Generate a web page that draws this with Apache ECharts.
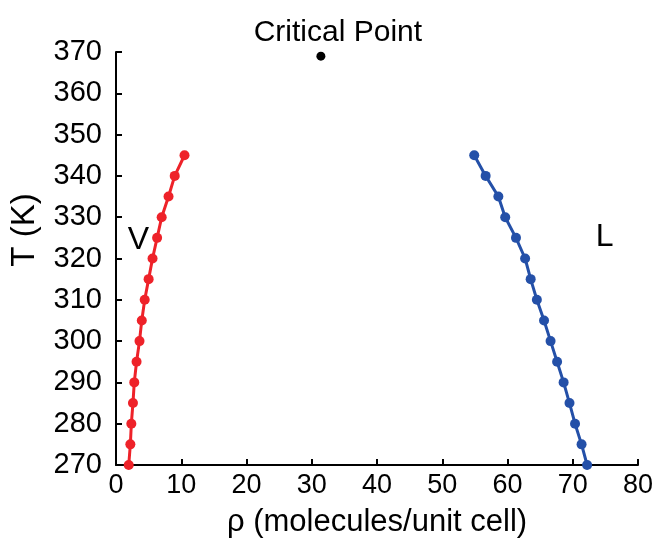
<!DOCTYPE html>
<html><head><meta charset="utf-8">
<script src="https://cdn.jsdelivr.net/npm/echarts@6/dist/echarts.min.js"></script>
<style>html,body{margin:0;padding:0;background:#fff}#c{width:665px;height:538px}</style>
</head><body><div id="c"></div>
<script>
const temps = [270,275,280,285,290,295,300,305,310,315,320,325,330,335,340,345];
const vaporRho = [1.95,2.2,2.35,2.6,2.8,3.15,3.6,3.95,4.4,5.0,5.6,6.3,7.0,8.05,9.0,10.5];
const liquidRho = [72.2,71.35,70.35,69.5,68.6,67.6,66.6,65.6,64.5,63.55,62.7,61.3,59.65,58.6,56.65,54.9];
const criticalPoint = [31.4, 369];
const phaseLabels = [{name:'V', value:[3.45,324.5]},{name:'L', value:[74.9,325.1]}];
const xTicks = [0,10,20,30,40,50,60,70,80];
const yTicks = [270,280,290,300,310,320,330,340,350,360,370];

const font = 'Liberation Sans, Arial, sans-serif';
const chart = echarts.init(document.getElementById('c'));
chart.setOption({
  animation:false,
  grid:{left:116,right:27,top:52,bottom:73,containLabel:false,outerBoundsMode:'none'},
  graphic:[{type:'text',x:25,y:230,rotation:Math.PI/2,
    style:{text:'T (K)',font:'33px ' + font,fill:'#000',textAlign:'center',textVerticalAlign:'middle'}}],
  xAxis:{type:'value',min:xTicks[0],max:xTicks[xTicks.length-1],interval:10,
    name:'ρ (molecules/unit cell)',nameLocation:'middle',nameGap:42,
    nameTextStyle:{fontFamily:font,fontSize:31,color:'#000'},
    axisLine:{lineStyle:{color:'#000',width:2}},
    axisTick:{inside:true,length:6,lineStyle:{color:'#000',width:2}},
    axisLabel:{fontFamily:font,fontSize:27,color:'#000',margin:7},
    splitLine:{show:false}},
  yAxis:{type:'value',min:yTicks[0],max:yTicks[yTicks.length-1],interval:10,
    axisLine:{onZero:false,lineStyle:{color:'#000',width:2}},
    axisTick:{inside:true,length:6,lineStyle:{color:'#000',width:2}},
    axisLabel:{fontFamily:font,fontSize:29,color:'#000',margin:14},
    splitLine:{show:false}},
  series:[
    {type:'line',data:vaporRho.map((r,i)=>[r,temps[i]]),symbol:'circle',symbolSize:10,
      lineStyle:{color:'#ee2229',width:3},itemStyle:{color:'#ee2229'}},
    {type:'line',data:liquidRho.map((r,i)=>[r,temps[i]]),symbol:'circle',symbolSize:10,
      lineStyle:{color:'#2450a8',width:3},itemStyle:{color:'#2450a8'}},
    {type:'scatter',data:[criticalPoint],symbolSize:9,itemStyle:{color:'#000',opacity:1},
      label:{show:true,position:'top',distance:4,formatter:'Critical Point',fontFamily:font,fontSize:30,color:'#000',offset:[17,0]}},
    {type:'scatter',data:phaseLabels,symbolSize:0,itemStyle:{opacity:1},
      label:{show:true,position:'inside',formatter:p=>p.name,fontFamily:font,fontSize:32,color:'#000'}}
  ]
});
</script></body></html>
